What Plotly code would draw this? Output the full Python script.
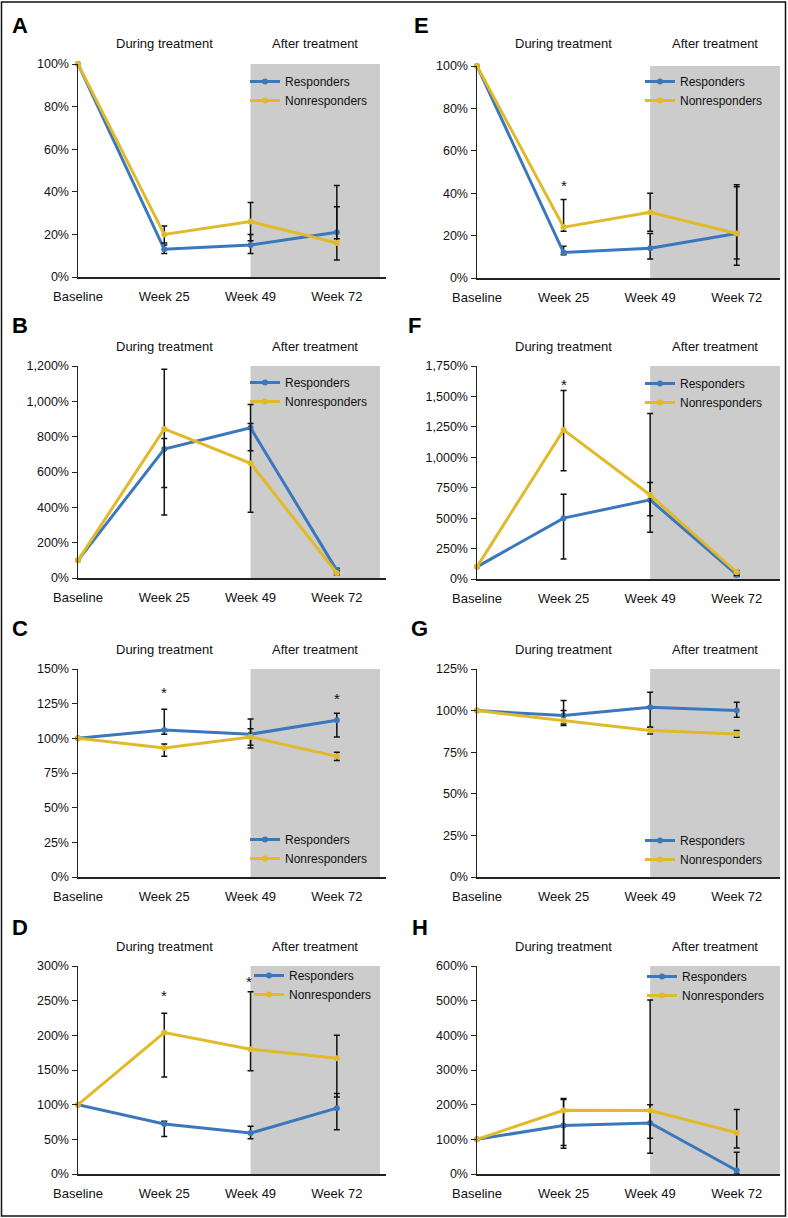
import plotly.graph_objects as go

W, H = 788, 1218
FONT = "Liberation Sans, Arial, sans-serif"

categories = ["Baseline", "Week 25", "Week 49", "Week 72"]
series_names = ["Responders", "Nonresponders"]

# Panel A
a_resp = [100, 13, 15, 21]
a_resp_hi = [None, 15, 20, 33]
a_resp_lo = [None, 11, 11, 18]
a_non = [100, 20, 26, 16]
a_non_hi = [None, 24, 35, 43]
a_non_lo = [None, 16, 17, 8]
# Panel B
b_resp = [100, 730, 850, 43]
b_resp_hi = [None, 790, 982, 55]
b_resp_lo = [None, 357, 720, 30]
b_non = [100, 844, 649, 28]
b_non_hi = [None, 1181, 875, 40]
b_non_lo = [None, 512, 372, 18]
# Panel C
c_resp = [100, 106, 103, 113]
c_resp_hi = [None, 121, 114, 118]
c_resp_lo = [None, 103, 93, 101]
c_non = [100, 93, 101, 87]
c_non_hi = [None, 96, 107, 90]
c_non_lo = [None, 87, 95, 84]
# Panel D
d_resp = [100, 72, 59, 95]
d_resp_hi = [None, 76, 69, 116]
d_resp_lo = [None, 54, 51, 64]
d_non = [100, 204, 180, 167]
d_non_hi = [None, 232, 263, 200]
d_non_lo = [None, 140, 149, 111]
# Panel E
e_resp = [100, 12, 14, 21]
e_resp_hi = [None, 15, 21, 44]
e_resp_lo = [None, 11, 9, 6]
e_non = [100, 24, 31, 21]
e_non_hi = [None, 37, 40, 43]
e_non_lo = [None, 22, 22, 9]
# Panel F
f_resp = [100, 500, 650, 35]
f_resp_hi = [None, 696, 792, 50]
f_resp_lo = [None, 164, 520, 20]
f_non = [100, 1225, 690, 55]
f_non_hi = [None, 1548, 1360, 70]
f_non_lo = [None, 890, 385, 30]
# Panel G
g_resp = [100, 97, 102, 100]
g_resp_hi = [None, 106, 111, 105]
g_resp_lo = [None, 92, 90, 96]
g_non = [100, 94, 88, 86]
g_non_hi = [None, 100, 90, 88]
g_non_lo = [None, 91, 86, 84]
# Panel H
h_resp = [100, 140, 147, 10]
h_resp_hi = [None, 215, 502, 63]
h_resp_lo = [None, 74, 60, 0]
h_non = [100, 184, 183, 119]
h_non_hi = [None, 218, 200, 186]
h_non_lo = [None, 82, 103, 75]

# significance markers: (category index, y value)
c_stars = [(1, 135), (3, 131)]
d_stars = [(1, 262), (2, 282)]
e_stars = [(1, 45)]
f_stars = [(1, 1624)]

y_max = {"A": 100, "B": 1200, "C": 150, "D": 300, "E": 100, "F": 1750, "G": 125, "H": 600}
y_dtick = {"A": 20, "B": 200, "C": 25, "D": 50, "E": 20, "F": 250, "G": 25, "H": 100}

BLUE = "#3b77bb"
YELLOW = "#e0ba2b"
AXC = "#222222"

# layout (pixels)
cols = {0: (78, 386, 3.57), 1: (477, 780, 3.5)}
panels = [
    dict(L="A", col=0, top=64, bot=277, d=(a_resp, a_resp_hi, a_resp_lo, a_non, a_non_hi, a_non_lo), stars=[], leg=(245, 67)),
    dict(L="B", col=0, top=366, bot=578, d=(b_resp, b_resp_hi, b_resp_lo, b_non, b_non_hi, b_non_lo), stars=[], leg=(245, 368)),
    dict(L="C", col=0, top=669, bot=877, d=(c_resp, c_resp_hi, c_resp_lo, c_non, c_non_hi, c_non_lo), stars=c_stars, leg=(245, 825)),
    dict(L="D", col=0, top=966, bot=1174, d=(d_resp, d_resp_hi, d_resp_lo, d_non, d_non_hi, d_non_lo), stars=d_stars, leg=(249, 961)),
    dict(L="E", col=1, top=66, bot=278, d=(e_resp, e_resp_hi, e_resp_lo, e_non, e_non_hi, e_non_lo), stars=e_stars, leg=(640, 67)),
    dict(L="F", col=1, top=366, bot=579, d=(f_resp, f_resp_hi, f_resp_lo, f_non, f_non_hi, f_non_lo), stars=f_stars, leg=(640, 369)),
    dict(L="G", col=1, top=669, bot=877, d=(g_resp, g_resp_hi, g_resp_lo, g_non, g_non_hi, g_non_lo), stars=[], leg=(640, 826)),
    dict(L="H", col=1, top=966, bot=1174, d=(h_resp, h_resp_hi, h_resp_lo, h_non, h_non_hi, h_non_lo), stars=[], leg=(642, 962)),
]
letter_pos = {"A": (20, 25), "B": (20, 325), "C": (20, 628), "D": (20, 927),
              "E": (421, 25), "F": (414, 325), "G": (419, 628), "H": (420, 927)}
title_y = {"A": 44, "B": 346, "C": 649, "D": 946, "E": 44, "F": 346, "G": 649, "H": 946}


def px(xp):
    return xp / W


def py(yp):
    return 1 - yp / H


def errs(vals, hi, lo):
    up = [None if h is None else h - v for v, h in zip(vals, hi)]
    dn = [None if l is None else v - l for v, l in zip(vals, lo)]
    return up, dn


fig = go.Figure()
layout = dict(width=W, height=H, margin=dict(l=0, r=0, t=0, b=0, autoexpand=False),
              paper_bgcolor="white", plot_bgcolor="white",
              font=dict(family=FONT, color="#111111"), showlegend=True)
shapes = []
annotations = []
xpos = list(range(len(categories)))

for i, p in enumerate(panels, start=1):
    L = p["L"]
    x0p, x1p, xr = cols[p["col"]]
    xa = "x" if i == 1 else f"x{i}"
    ya = "y" if i == 1 else f"y{i}"
    legname = "legend" if i == 1 else f"legend{i}"
    layout[f"xaxis{i}"] = dict(domain=[px(x0p), px(x1p)], range=[0, xr], anchor=ya,
                               tickvals=xpos, ticktext=categories, showline=True,
                               linecolor=AXC, linewidth=1.5, ticks="outside", ticklen=7,
                               tickcolor="rgba(0,0,0,0)", showgrid=False, zeroline=False,
                               tickfont=dict(size=13, family=FONT, color="#111"))
    layout[f"yaxis{i}"] = dict(domain=[py(p["bot"]), py(p["top"])], range=[0, y_max[L]], anchor=xa,
                               dtick=y_dtick[L], tickformat=",.0f", ticksuffix="%",
                               showline=True, linecolor=AXC, linewidth=1.5, ticks="outside",
                               ticklen=5, tickcolor=AXC, showgrid=False, zeroline=False,
                               tickfont=dict(size=12.5, family=FONT, color="#111"))
    shapes.append(dict(type="rect", xref=xa, yref=ya, x0=2, x1=3.5, y0=0, y1=y_max[L],
                       fillcolor="#cccccc", line=dict(width=0), layer="below"))
    r, rh, rl, n, nh, nl = p["d"]
    for name, vals, hi, lo, color in ((series_names[0], r, rh, rl, BLUE), (series_names[1], n, nh, nl, YELLOW)):
        up, dn = errs(vals, hi, lo)
        fig.add_trace(go.Scatter(x=xpos, y=vals, name=name, mode="lines+markers",
                                 xaxis=xa, yaxis=ya, legend=legname, cliponaxis=False,
                                 line=dict(color=color, width=3),
                                 marker=dict(color=color, size=6),
                                 error_y=dict(type="data", symmetric=False, array=up, arrayminus=dn,
                                              color="#111111", thickness=1.5, width=3)))
    lx, ly = p["leg"]
    layout[legname] = dict(x=px(lx), y=py(ly), xanchor="left", yanchor="top",
                           xref="container", yref="container",
                           bgcolor="rgba(0,0,0,0)", font=dict(size=12, family=FONT, color="#111"),
                           itemwidth=30, tracegroupgap=0)
    # letter
    lxp, lyp = letter_pos[L]
    annotations.append(dict(text=f"<b>{L}</b>", xref="paper", yref="paper", x=px(lxp), y=py(lyp),
                            xanchor="center", yanchor="middle", showarrow=False,
                            font=dict(size=22, family=FONT, color="#000")))
    for txt, xv in (("During treatment", 1.0), ("After treatment", 2.75)):
        annotations.append(dict(text=txt, xref=xa, yref="paper", x=xv, y=py(title_y[L]),
                                xanchor="center", yanchor="middle", showarrow=False,
                                font=dict(size=13, family=FONT, color="#111")))
    for sx, sy in p["stars"]:
        annotations.append(dict(text="*", xref=xa, yref=ya, x=sx, y=sy, xanchor="center",
                                yanchor="middle", showarrow=False, yshift=-3,
                                xshift=-2 if sx == 2 else 0,
                                font=dict(size=15, family=FONT, color="#111")))

# outer frame
shapes.append(dict(type="rect", xref="paper", yref="paper", x0=px(1.5), x1=px(785.5),
                   y0=py(1216), y1=py(2), line=dict(color="#111", width=1.5)))
layout["shapes"] = shapes
layout["annotations"] = annotations
fig.update_layout(**layout)
fig.write_html("out.html", config={"displayModeBar": False, "staticPlot": True},
               post_script="document.body.style.margin='0px';document.body.style.overflow='hidden';")
